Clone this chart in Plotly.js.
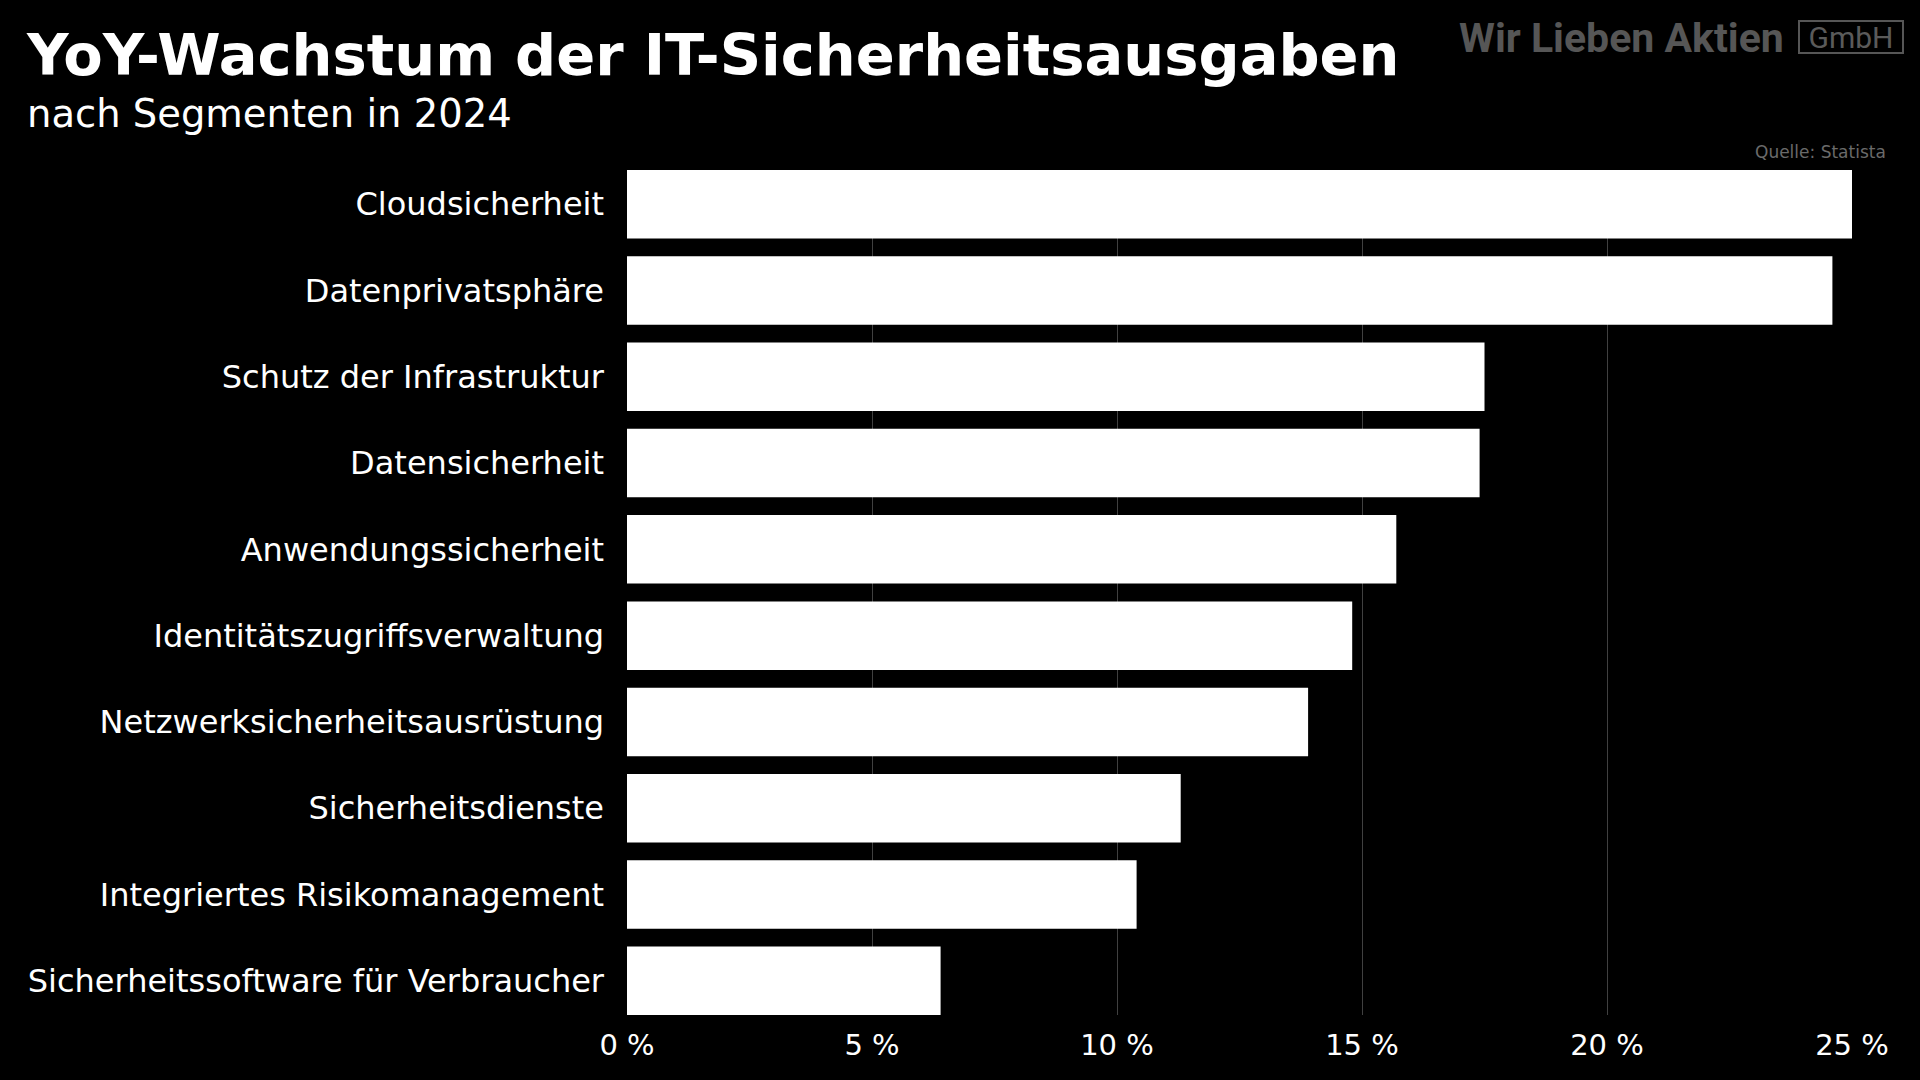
<!DOCTYPE html>
<html>
<head>
<meta charset="utf-8">
<script src="https://cdn.plot.ly/plotly-3.0.1.min.js"></script>
<style>
  html, body { margin: 0; padding: 0; background: #000; }
  #chart { width: 1920px; height: 1080px; }
</style>
</head>
<body>
<div id="chart"></div>
<script>
// ---- Data ----
const segments = [
  "Cloudsicherheit",
  "Datenprivatsphäre",
  "Schutz der Infrastruktur",
  "Datensicherheit",
  "Anwendungssicherheit",
  "Identitätszugriffsverwaltung",
  "Netzwerksicherheitsausrüstung",
  "Sicherheitsdienste",
  "Integriertes Risikomanagement",
  "Sicherheitssoftware für Verbraucher"
];
const growthPct = [25.0, 24.6, 17.5, 17.4, 15.7, 14.8, 13.9, 11.3, 10.4, 6.4];
const xTicks = [0, 5, 10, 15, 20, 25];
const xTickLabels = ["0 %", "5 %", "10 %", "15 %", "20 %", "25 %"];

const titleText = "YoY-Wachstum der IT-Sicherheitsausgaben";
const subtitleText = "nach Segmenten in 2024";
const sourceText = "Quelle: Statista";
const logoText = "Wir Lieben Aktien";
const logoSuffix = "GmbH";

// ---- Layout geometry (pixels) ----
const W = 1920, H = 1080;
const plotL = 627, plotR = 1852, plotT = 170, plotB = 1015;
const px = x => (x - plotL) / (plotR - plotL);
const py = y => (plotB - y) / (plotB - plotT);

const FONT = "'DejaVu Sans', 'Noto Sans', sans-serif";

const trace = {
  type: "bar",
  orientation: "h",
  x: growthPct,
  y: segments,
  marker: { color: "#ffffff", line: { width: 0 } },
  hoverinfo: "skip"
};

const nCat = segments.length;
const pad = 0.397;

const layout = {
  width: W, height: H,
  paper_bgcolor: "#000000",
  plot_bgcolor: "#000000",
  margin: { l: plotL, r: W - plotR, t: plotT, b: H - plotB, pad: 0 },
  bargap: 0.206,
  showlegend: false,
  font: { family: FONT, color: "#ffffff" },
  xaxis: {
    range: [0, 25],
    tickmode: "array",
    tickvals: xTicks,
    ticktext: xTickLabels,
    showgrid: true,
    gridcolor: "#404040",
    gridwidth: 1,
    zeroline: false,
    showline: false,
    ticks: "",
    ticklabelstandoff: 10,
    tickfont: { family: FONT, size: 29, color: "#ffffff" },
    fixedrange: true
  },
  yaxis: {
    type: "category",
    range: [nCat - 1 + pad, -pad],
    showgrid: false,
    zeroline: false,
    showline: false,
    ticks: "",
    ticklabelstandoff: 22,
    tickfont: { family: FONT, size: 32, color: "#ffffff" },
    fixedrange: true
  },
  title: {
    text: "<b>" + titleText + "</b>",
    font: { family: FONT, size: 57.5, color: "#ffffff" },
    xref: "container", yref: "container",
    x: 27 / W, xanchor: "left",
    y: 1 - 55 / H, yanchor: "middle"
  },
  annotations: [
    {
      text: subtitleText,
      xref: "paper", yref: "paper",
      x: px(25), xanchor: "left",
      y: py(114), yanchor: "middle",
      showarrow: false,
      font: { family: FONT, size: 38.5, color: "#ffffff" }
    },
    {
      text: "<b>" + logoText + "</b>",
      xref: "paper", yref: "paper",
      x: px(1786), xanchor: "right",
      y: py(38), yanchor: "middle",
      showarrow: false,
      font: { family: "Roboto, sans-serif", size: 41, color: "#565656" }
    },
    {
      text: logoSuffix,
      xref: "paper", yref: "paper",
      x: px(1850.5), xanchor: "center",
      y: py(37), yanchor: "middle",
      showarrow: false,
      width: 100, height: 28, align: "center", valign: "middle",
      bordercolor: "#565656", borderwidth: 2, borderpad: 1,
      font: { family: "Roboto, sans-serif", size: 30, color: "#5a5a5a" }
    },
    {
      text: sourceText,
      xref: "paper", yref: "paper",
      x: px(1888), xanchor: "right",
      y: py(152), yanchor: "middle",
      showarrow: false,
      font: { family: FONT, size: 17, color: "#6a6a6a" }
    }
  ]
};

Plotly.newPlot("chart", [trace], layout, { displayModeBar: false, staticPlot: true });
</script>
</body>
</html>
